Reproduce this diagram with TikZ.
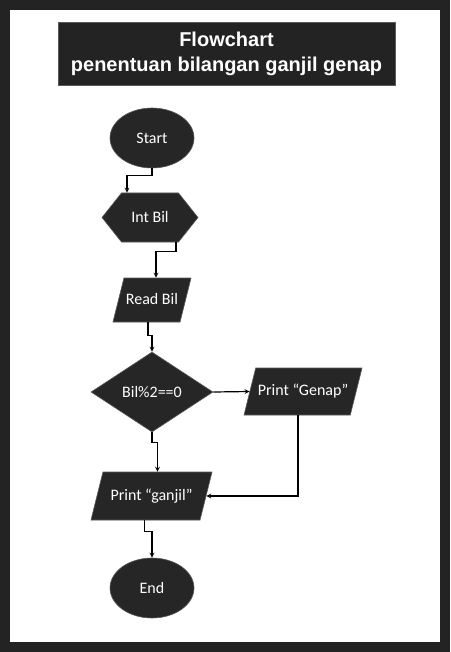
\documentclass[tikz,border=0pt]{standalone}
\usepackage{fontspec}
\setmainfont{Carlito}
\newfontfamily\titlefont{Liberation Sans}
\usetikzlibrary{shapes.geometric,shapes.symbols}
\definecolor{framegray}{HTML}{232323}
\definecolor{boxfill}{HTML}{262626}
\definecolor{boxline}{HTML}{5A5A5A}
\tikzset{
	box/.style={fill=boxfill, draw=boxline, line width=0.6pt, text=white, font=\fontsize{16}{19}\selectfont, inner sep=2pt},
	terminal/.style={box, ellipse, minimum width=84pt, minimum height=60pt},
	prep/.style={box, signal, signal to=east and west, signal pointer angle=103, minimum width=96pt, minimum height=49pt},
	io/.style={box, trapezium, trapezium left angle=76, trapezium right angle=104, trapezium stretches body, text height=12pt, text depth=4pt, inner ysep=#1},
	io/.default=14pt,
	decision/.style={box, diamond, minimum width=122pt, minimum height=80pt},
	line/.style={draw=black, line width=1.2pt, -stealth},
}

\begin{document}
\begin{tikzpicture}[x=1pt,y=-1pt]
		%%%%% FRAME %%%%%
		\fill[framegray] (0,0) rectangle (450,652);
		\fill[white] (10,10) rectangle (440,642);
		
		\node[fill=framegray, draw=boxline, line width=0.6pt, minimum width=337pt, minimum height=63pt, text=white, align=center, font=\titlefont\bfseries\fontsize{20}{25}\selectfont] (judul) at (226.5,53.5) {Flowchart\\penentuan bilangan ganjil genap};
		
		%%%%% SHAPES %%%%%
		\node[terminal] (start) at (152,138) {Start};
		\node[prep] (intbil) at (150,217.5) {Int Bil};
		\node[io=14pt, minimum width=72pt] (readbil) at (152,300) {Read Bil};
		\node[decision] (cek) at (152,392) {Bil\%2==0};
		\node[io=15.5pt, minimum width=118pt] (genap) at (303,391.5) {Print “Genap”};
		\node[io=16pt, minimum width=121pt] (ganjil) at (151.5,496) {Print “ganjil”};
		\node[terminal] (stop) at (152,588) {End};
		
		%%%%% CONNECTORS %%%%%
		\draw[line] (start.south) -- ++(0,7) -| ([xshift=-23pt]intbil.north);
		\draw[line] ([xshift=26pt]intbil.south) -- ++(0,9) -| ([xshift=4pt]readbil.north);
		\draw[line] ([xshift=-4pt]readbil.south) -- ++(0,13) -| (cek.north);
		\draw[line] (cek.south) -- ++(0,10) -| ([xshift=6pt]ganjil.north);
		\draw[line] (cek.east) -- (genap.west);
		\draw[line] ([xshift=-5pt]genap.south) |- (ganjil.east);
		\draw[line] ([xshift=-7pt]ganjil.south) -- ++(0,11) -| (stop.north);
		%%%%% END %%%%%
	\end{tikzpicture}
\end{document}
